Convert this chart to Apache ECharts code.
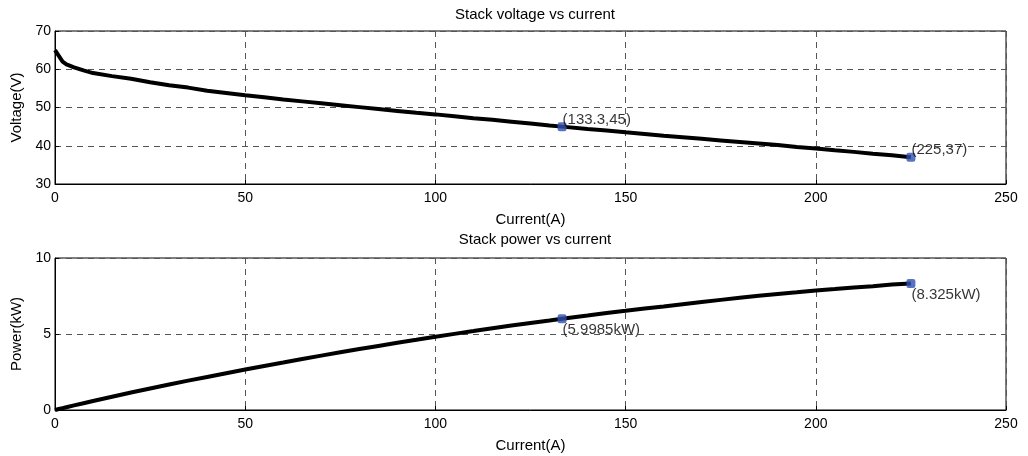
<!DOCTYPE html>
<html><head><meta charset="utf-8">
<script src="https://cdn.jsdelivr.net/npm/echarts@6/dist/echarts.min.js"></script>
<style>html,body{margin:0;padding:0;background:#fff}#c{width:1028px;height:456px}</style>
</head><body><div id="c"></div>
<script>
const current = [0,1,2,3,5,7.5,10,15,20,25,30,35,40,45,50,55,60,65,70,75,80,85,90,95,100,105,110,115,120,125,130,133.3,140,145,150,155,160,165,170,175,180,185,190,195,200,205,210,215,220,225];
const voltage = [65,63.5,62,61.3,60.5,59.7,59,58.2,57.5,56.6,55.8,55.2,54.4,53.8,53.2,52.7,52.1,51.6,51.1,50.6,50.1,49.6,49.1,48.6,48.2,47.7,47.2,46.8,46.3,45.8,45.3,45,44.4,44.0,43.5,43.1,42.6,42.2,41.8,41.4,41.0,40.6,40.2,39.7,39.3,38.8,38.4,37.9,37.5,37];
const power = [0,0.064,0.124,0.184,0.303,0.448,0.59,0.873,1.15,1.415,1.674,1.932,2.176,2.421,2.66,2.899,3.126,3.354,3.577,3.795,4.008,4.216,4.419,4.617,4.82,5.009,5.192,5.382,5.556,5.725,5.889,5.9985,6.216,6.38,6.525,6.681,6.816,6.963,7.106,7.245,7.38,7.511,7.638,7.742,7.86,7.954,8.064,8.149,8.25,8.325];
const vMarks = [[133.3,45,'(133.3,45)'],[225,37,'(225,37)']];
const pMarks = [[133.3,5.9985,'(5.9985kW)'],[225,8.325,'(8.325kW)']];
const titles = ['Stack voltage vs current','Stack power vs current'];
const xName = 'Current(A)';
const yNames = ['Voltage(V)','Power(kW)'];

const font = 'Liberation Sans, Arial, sans-serif';
const chart = echarts.init(document.getElementById('c'), null, {renderer:'canvas'});
function xAxis(idx){
  return {gridIndex:idx,type:'value',min:0,max:250,interval:50,
    name:xName,nameLocation:'middle',nameGap:28,
    nameTextStyle:{color:'#000',fontSize:15,fontFamily:font},
    axisLine:{show:true,lineStyle:{color:'#000',width:1}},
    axisTick:{show:true,inside:true,length:4,lineStyle:{color:'#000'}},
    axisLabel:{color:'#000',fontSize:14,fontFamily:font,margin:7},
    splitLine:{show:true,lineStyle:{color:'#555',type:[6,5],width:1}}};
}
function yAxis(idx,min,max,interval){
  return {gridIndex:idx,type:'value',min:min,max:max,interval:interval,
    name:yNames[idx],nameLocation:'middle',nameGap:28,
    nameTextStyle:{color:'#000',fontSize:15,fontFamily:font},
    axisLine:{show:true,lineStyle:{color:'#000',width:1}},
    axisTick:{show:true,inside:true,length:4,lineStyle:{color:'#000'}},
    axisLabel:{color:'#000',fontSize:14,fontFamily:font,margin:4},
    splitLine:{show:true,lineStyle:{color:'#555',type:[6,5],width:1}}};
}
function markSeries(idx,marks,pos){
  return {type:'scatter',xAxisIndex:idx,yAxisIndex:idx,symbol:'roundRect',symbolSize:9,
    itemStyle:{color:'#3050b0'},z:5,
    data:marks.map(m=>({value:[m[0],m[1]],label:{formatter:m[2]}})),
    label:{show:true,position:pos,color:'#000',fontSize:15,fontFamily:font,textBorderWidth:0}};
}
chart.setOption({
  animation:false,
  title:[
    {text:titles[0],left:530,top:2,textAlign:'center',textStyle:{fontSize:15,fontWeight:'normal',color:'#000',fontFamily:font}},
    {text:titles[1],left:530,top:227,textAlign:'center',textStyle:{fontSize:15,fontWeight:'normal',color:'#000',fontFamily:font}}
  ],
  grid:[
    {left:55,top:31,width:951,height:153,show:true,borderColor:'#000',borderWidth:1},
    {left:55,top:258,width:951,height:152,show:true,borderColor:'#000',borderWidth:1}
  ],
  xAxis:[xAxis(0),xAxis(1)],
  yAxis:[yAxis(0,30,70,10),yAxis(1,0,10,5)],
  series:[
    {type:'line',xAxisIndex:0,yAxisIndex:0,showSymbol:false,lineStyle:{color:'#000',width:4},
      data:current.map((c,i)=>[c,voltage[i]])},
    {type:'line',xAxisIndex:1,yAxisIndex:1,showSymbol:false,lineStyle:{color:'#000',width:4},
      data:current.map((c,i)=>[c,power[i]])},
    markSeries(0,vMarks,[5,-10]),
    markSeries(1,pMarks,[5,8])
  ]
});
</script></body></html>
